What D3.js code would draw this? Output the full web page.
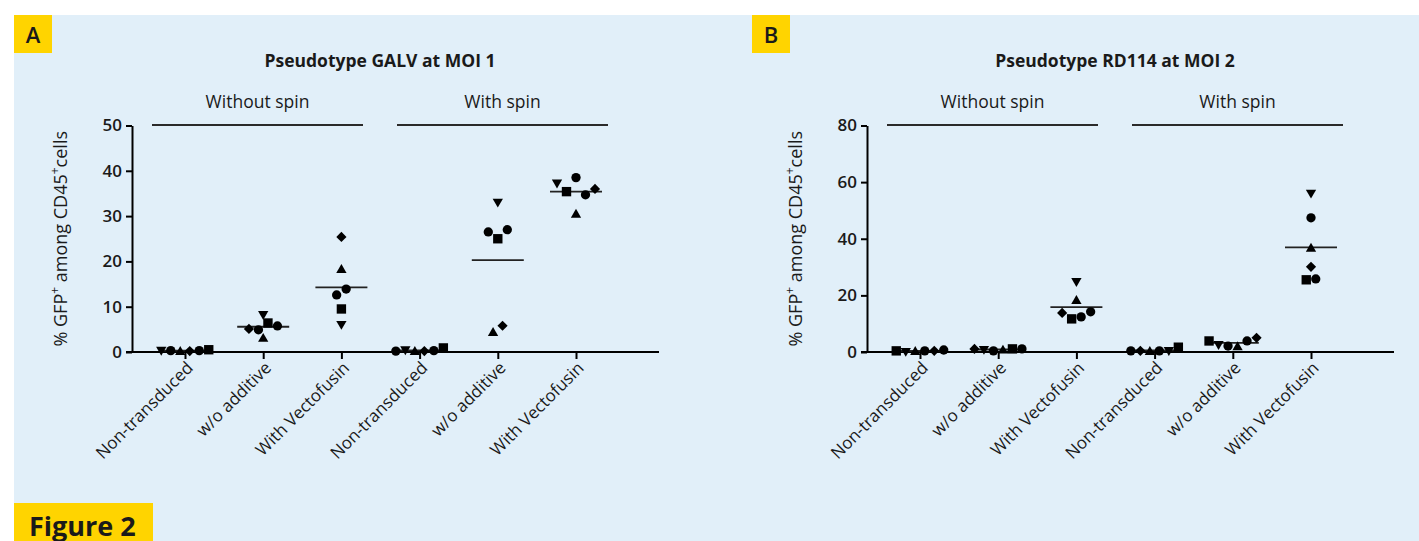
<!DOCTYPE html>
<html>
<head>
<meta charset="utf-8">
<script src="https://cdn.jsdelivr.net/npm/d3@7"></script>
<style>
  body { margin: 0; background: #fff; }
  svg { display: block; }
  text { font-family: "Open Sans", "Noto Sans", sans-serif; fill: #1a1a1a; }
</style>
</head>
<body>
<svg width="1419" height="541"></svg>
<script>
const categories = ["Non-transduced", "w/o additive", "With Vectofusin",
                    "Non-transduced", "w/o additive", "With Vectofusin"];
const spinLabels = ["Without spin", "With spin"];
const titles = ["Pseudotype GALV at MOI 1", "Pseudotype RD114 at MOI 2"];
const panelLetters = ["A", "B"];
const ticksA = [0, 10, 20, 30, 40, 50];
const ticksB = [0, 20, 40, 60, 80];

// values per column, listed left to right as the points sit in the reference
const valuesA = [
    [0.5, 0.3, 0.0, 0.2, 0.3, 0.5],
    [5.1, 8.4, 2.9, 4.9, 6.4, 5.75],
    [25.4, 18.1, 12.6, 13.9, 9.5, 6.2],
    [0.2, 0.6, 0.0, 0.2, 0.3, 0.9],
    [4.2, 5.8, 26.5, 25.0, 27.0, 33.2],
    [37.4, 35.4, 38.5, 34.7, 36.0, 30.3]
];
const shapesA = [
    ["dn", "ci", "up", "di", "ci", "sq"],
    ["di", "dn", "up", "ci", "sq", "ci"],
    ["di", "up", "ci", "ci", "sq", "dn"],
    ["ci", "dn", "up", "di", "ci", "sq"],
    ["up", "di", "ci", "sq", "ci", "dn"],
    ["dn", "sq", "ci", "ci", "di", "up"]
];
const valuesB = [
    [0.4, 0.4, 0.0, 0.4, 0.4, 0.7],
    [1.1, 1.1, 0.4, 0.5, 1.1, 1.1],
    [13.8, 18.0, 25.1, 11.7, 12.4, 14.2],
    [0.4, 0.4, 0.0, 0.4, 0.7, 1.7],
    [3.9, 2.8, 2.1, 1.7, 3.9, 5.0],
    [25.5, 25.8, 56.3, 47.4, 36.5, 30.1]
];
const shapesB = [
    ["sq", "dn", "up", "ci", "di", "ci"],
    ["di", "dn", "ci", "up", "sq", "ci"],
    ["di", "up", "dn", "sq", "ci", "ci"],
    ["ci", "di", "up", "ci", "dn", "sq"],
    ["sq", "dn", "ci", "up", "ci", "di"],
    ["sq", "ci", "dn", "ci", "up", "di"]
];

const svg = d3.select("svg");
const W = +svg.attr("width");
const H = +svg.attr("height");

svg.append("rect")
    .attr("x", 14).attr("y", 15)
    .attr("width", W - 14).attr("height", H - 15)
    .attr("fill", "#e1eff9");

const symbolFor = (s) => {
    if (s === "sq") return d3.symbol(d3.symbolSquare, 88)();
    if (s === "ci") return d3.symbol(d3.symbolCircle, 68)();
    if (s === "di") return d3.symbol(d3.symbolSquare, 52)();
    return d3.symbol(d3.symbolTriangle, 46)();
};
const rotFor = (s) => s === "dn" ? 180 : s === "di" ? 45 : 0;

// spread points that overlap vertically into a centred row
function dodge(vals, y) {
    const order = d3.range(vals.length).sort((a, b) => vals[b] - vals[a]);
    const rows = [];
    let row = [], prev = null;
    order.forEach(i => {
        const py = y(vals[i]);
        if (prev !== null && py - prev > 8) { rows.push(row); row = []; }
        row.push(i);
        prev = py;
    });
    rows.push(row);
    const off = [];
    rows.forEach(r => {
        r.sort((a, b) => a - b);
        r.forEach((i, k) => off[i] = (k - (r.length - 1) / 2) * 9.5);
    });
    return off;
}

function drawPanel(ox, p, ticks, values, shapes) {
    const g = svg.append("g").attr("transform", `translate(${ox},0)`);
    const x0 = 132, x1 = 659, yBase = 352, yTop = 125.5;

    const x = d3.scalePoint().domain(d3.range(categories.length)).range([185, 576]);
    const y = d3.scaleLinear().domain([0, d3.max(ticks)]).range([yBase, yTop]);

    // panel letter
    g.append("rect")
        .attr("x", p === 0 ? 14 : 17).attr("y", 15)
        .attr("width", 38).attr("height", 38)
        .attr("fill", "#ffd400");
    g.append("text")
        .attr("x", p === 0 ? 33 : 36).attr("y", 43)
        .attr("text-anchor", "middle")
        .attr("font-size", 22).attr("font-weight", 600)
        .text(panelLetters[p]);

    g.append("text")
        .attr("x", 380).attr("y", 67)
        .attr("text-anchor", "middle")
        .attr("font-size", 17.5).attr("font-weight", 700)
        .text(titles[p]);

    const groupSpan = [[152, 363], [397, 608]];
    groupSpan.forEach((s, i) => {
        g.append("line")
            .attr("x1", s[0]).attr("x2", s[1])
            .attr("y1", 125).attr("y2", 125)
            .attr("stroke", "#2a2a2a").attr("stroke-width", 1.8);
        g.append("text")
            .attr("x", (s[0] + s[1]) / 2).attr("y", 108)
            .attr("text-anchor", "middle")
            .attr("font-size", 17.5)
            .text(spinLabels[i]);
    });

    const yAxis = g.append("g")
        .attr("transform", `translate(${x0},0)`)
        .call(d3.axisLeft(y).tickValues(ticks).tickSize(6).tickSizeOuter(0).tickPadding(4));
    yAxis.select(".domain").attr("stroke", "#000").attr("stroke-width", 2);
    yAxis.selectAll(".tick line").attr("stroke", "#000").attr("stroke-width", 2);
    yAxis.selectAll(".tick text")
        .attr("font-size", 17).attr("font-weight", 600)
        .attr("font-family", "'Open Sans', sans-serif")
        .attr("fill", "#1a1a1a");

    g.append("line")
        .attr("x1", x0 - 6).attr("x2", x1)
        .attr("y1", yBase).attr("y2", yBase)
        .attr("stroke", "#000").attr("stroke-width", 2);

    const xAxis = g.append("g")
        .attr("transform", `translate(0,${yBase})`)
        .call(d3.axisBottom(x).tickSize(7).tickSizeOuter(0).tickFormat(""));
    xAxis.select(".domain").remove();
    xAxis.selectAll(".tick line").attr("stroke", "#000").attr("stroke-width", 2);

    g.selectAll(".cat")
        .data(categories)
        .join("text")
        .attr("class", "cat")
        .attr("transform", (d, i) => `translate(${x(i) + 9},${yBase + 17}) rotate(-45)`)
        .attr("text-anchor", "end")
        .attr("font-size", 17)
        .text(d => d);

    const yl = g.append("text")
        .attr("transform", `translate(67,${(yBase + yTop) / 2}) rotate(-90)`)
        .attr("text-anchor", "middle")
        .attr("font-size", 18);
    yl.append("tspan").text("% GFP");
    yl.append("tspan").attr("baseline-shift", "super").attr("font-size", 12).text("+");
    yl.append("tspan").text(" among CD45");
    yl.append("tspan").attr("baseline-shift", "super").attr("font-size", 12).text("+");
    yl.append("tspan").text("cells");

    values.forEach((vals, c) => {
        const m = d3.mean(vals);
        g.append("line")
            .attr("x1", x(c) - 26).attr("x2", x(c) + 26)
            .attr("y1", y(m)).attr("y2", y(m))
            .attr("stroke", "#222").attr("stroke-width", 1.8);

        const off = dodge(vals, y);
        g.selectAll(null)
            .data(vals.map((v, i) => ({v, s: shapes[c][i], dx: off[i]})))
            .join("path")
            .attr("d", d => symbolFor(d.s))
            .attr("transform", d => `translate(${x(c) + d.dx},${y(d.v)}) rotate(${rotFor(d.s)})`)
            .attr("fill", "#000");
    });
}

drawPanel(0, 0, ticksA, valuesA, shapesA);
drawPanel(735, 1, ticksB, valuesB, shapesB);

svg.append("rect")
    .attr("x", 14).attr("y", 503)
    .attr("width", 139).attr("height", H - 503)
    .attr("fill", "#ffd400");
svg.append("text")
    .attr("x", 29).attr("y", 536)
    .attr("font-size", 27).attr("font-weight", 700)
    .text("Figure 2");
</script>
</body>
</html>
